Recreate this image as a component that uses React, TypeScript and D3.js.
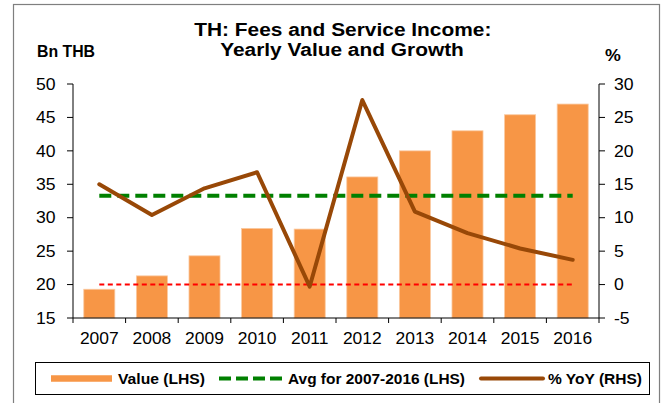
import React from "react";
import * as d3 from "d3";

const years = ["2007", "2008", "2009", "2010", "2011", "2012", "2013", "2014", "2015", "2016"];
const values = [19.3, 21.3, 24.3, 28.4, 28.3, 36.1, 40.0, 43.0, 45.4, 47.0];
const yoy = [15.0, 10.4, 14.4, 16.8, -0.3, 27.6, 10.9, 7.7, 5.4, 3.7];
const avgValue = 33.3;
const zeroLine = 0;
const leftTicks = [15, 20, 25, 30, 35, 40, 45, 50];
const rightTicks = [-5, 0, 5, 10, 15, 20, 25, 30];

const FONT = "'Liberation Sans', Arial, Helvetica, sans-serif";

type TProps = {
  x: number;
  y: number;
  sx?: number;
  anchor?: "start" | "middle" | "end";
  size: number;
  bold?: boolean;
  dy?: string;
  children: React.ReactNode;
};

function SText({ x, y, sx = 1.1, anchor = "start", size, bold, dy, children }: TProps) {
  return (
    <text
      transform={`translate(${x},${y}) scale(${sx},1)`}
      textAnchor={anchor}
      fontSize={size}
      fontWeight={bold ? "bold" : "normal"}
      dy={dy}
      fill="#000"
    >
      {children}
    </text>
  );
}

export default function App() {
  const W = 669, H = 403;
  const x0 = 73, x1 = 599, yTop = 84, yBot = 318;
  const x = d3.scaleBand<string>().domain(years).range([x0, x1]).padding(0);
  const bw = x.bandwidth();
  const barW = bw * 0.59;
  const yL = d3.scaleLinear().domain([15, 50]).range([yBot, yTop]);
  const yR = d3.scaleLinear().domain([-5, 30]).range([yBot, yTop]);
  const cx = (y: string) => (x(y) as number) + bw / 2;

  const line = d3
    .line<number>()
    .x((_, i) => cx(years[i]))
    .y((d) => yR(d));

  const first = cx(years[0]);
  const last = cx(years[years.length - 1]);

  return (
    <svg width={W} height={H} style={{ position: "absolute", left: 0, top: 0, background: "#fff" }} fontFamily={FONT}>
      <rect x={0} y={0} width={W} height={H} fill="#fff" />
      {/* frame */}
      <rect x={13.5} y={4.5} width={646} height={420} fill="none" stroke="#7f7f7f" strokeWidth={1.2} />

      {/* titles */}
      <SText x={342.8} y={36} anchor="middle" size={18.5} bold sx={1.13}>TH: Fees and Service Income:</SText>
      <SText x={342} y={55.5} anchor="middle" size={18.5} bold sx={1.13}>Yearly Value and Growth</SText>
      <text x={37} y={57} fontSize={16.5} fontWeight="bold" fill="#000" textLength={58} lengthAdjust="spacingAndGlyphs">Bn THB</text>
      <SText x={605} y={61} size={16.5} bold sx={1.08}>%</SText>

      {/* bars */}
      {values.map((v, i) => (
        <rect
          key={years[i]}
          x={cx(years[i]) - barW / 2}
          y={yL(v)}
          width={barW}
          height={yBot - yL(v)}
          fill="#F79646"
          stroke="#FAC9A0"
          strokeWidth={0.8}
        />
      ))}

      {/* zero line (RHS) */}
      <line x1={first} x2={last} y1={yR(zeroLine)} y2={yR(zeroLine)} stroke="#FF0000" strokeWidth={2} strokeDasharray="5 3.5" />
      {/* avg line (LHS) */}
      <line x1={first} x2={last} y1={yL(avgValue)} y2={yL(avgValue)} stroke="#008000" strokeWidth={4} strokeDasharray="12 6" strokeLinecap="butt" />

      {/* yoy line */}
      <path d={line(yoy) || ""} fill="none" stroke="#984807" strokeWidth={4} strokeLinejoin="round" strokeLinecap="round" />

      {/* left axis */}
      <line x1={x0} x2={x0} y1={yTop} y2={yBot} stroke="#000" strokeWidth={1} />
      {leftTicks.map((t) => (
        <g key={"l" + t}>
          <line x1={x0 - 6} x2={x0} y1={yL(t)} y2={yL(t)} stroke="#000" />
          <SText x={55.5} y={yL(t)} dy="0.36em" anchor="end" size={16} sx={1.1}>{t}</SText>
        </g>
      ))}
      {/* right axis */}
      <line x1={x1} x2={x1} y1={yTop} y2={yBot} stroke="#000" strokeWidth={1} />
      {rightTicks.map((t) => (
        <g key={"r" + t}>
          <line x1={x1} x2={x1 + 6} y1={yR(t)} y2={yR(t)} stroke="#000" />
          <SText x={614} y={yR(t)} dy="0.36em" anchor="start" size={16} sx={1.1}>{t}</SText>
        </g>
      ))}
      {/* bottom axis */}
      <line x1={x0} x2={x1} y1={yBot} y2={yBot} stroke="#000" strokeWidth={1} />
      {years.map((yr) => (
        <line key={"t" + yr} x1={x(yr) as number} x2={x(yr) as number} y1={yBot} y2={yBot + 5} stroke="#000" />
      ))}
      <line x1={x1} x2={x1} y1={yBot} y2={yBot + 5} stroke="#000" />
      {years.map((yr) => (
        <SText key={"x" + yr} x={cx(yr)} y={344} anchor="middle" size={16.3} sx={1.07}>{yr}</SText>
      ))}

      {/* legend */}
      <rect x={35.5} y={362.5} width={614} height={32} fill="#fff" stroke="#000" strokeWidth={1} />
      <line x1={51} x2={112} y1={378.5} y2={378.5} stroke="#F79646" strokeWidth={6.5} />
      <text x={118} y={383.5} fontSize={14.5} fontWeight="bold" fill="#000" textLength={87} lengthAdjust="spacingAndGlyphs">Value (LHS)</text>
      <line x1={219} x2={282} y1={378.5} y2={378.5} stroke="#008000" strokeWidth={4} strokeDasharray="12 5" />
      <text x={288} y={383.5} fontSize={14.5} fontWeight="bold" fill="#000" textLength={177} lengthAdjust="spacingAndGlyphs">Avg for 2007-2016 (LHS)</text>
      <line x1={481} x2={543} y1={378.5} y2={378.5} stroke="#984807" strokeWidth={4} strokeLinecap="round" />
      <text x={548} y={383.5} fontSize={14.5} fontWeight="bold" fill="#000" textLength={94} lengthAdjust="spacingAndGlyphs">% YoY (RHS)</text>
    </svg>
  );
}
